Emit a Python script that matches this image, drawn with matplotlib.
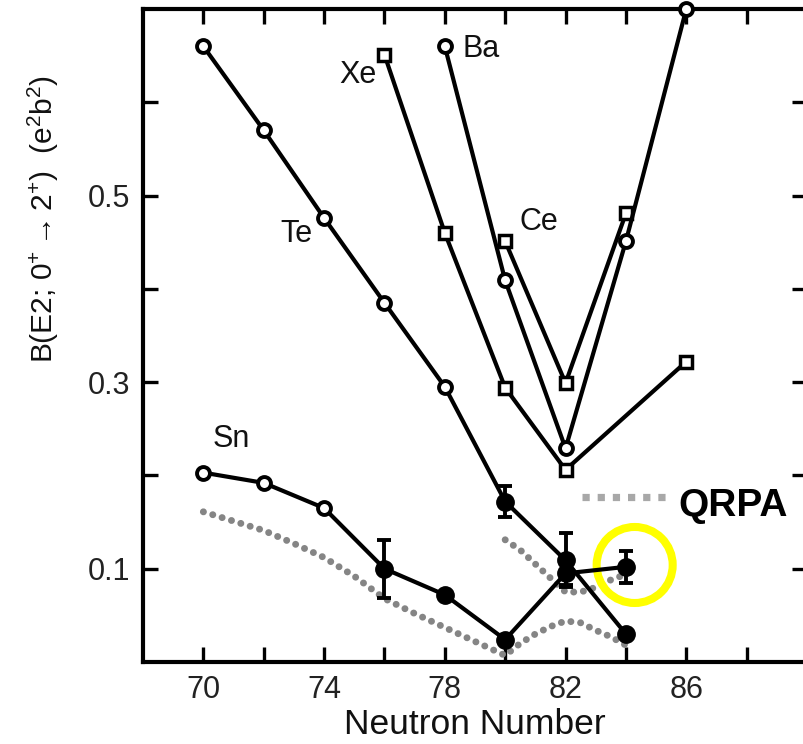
import numpy as np
import matplotlib
matplotlib.use("Agg")
import matplotlib.pyplot as plt
from matplotlib.patches import Ellipse

plt.rcParams['font.family'] = ['Liberation Sans', 'DejaVu Sans']
plt.rcParams['mathtext.fontset'] = 'custom'
plt.rcParams['mathtext.rm'] = 'Liberation Sans'
plt.rcParams['mathtext.it'] = 'Liberation Sans:italic'
plt.rcParams['mathtext.bf'] = 'Liberation Sans:bold'

# ---------------- data ----------------
te_n = [70, 72, 74, 76, 78, 80, 82, 84]
te_b = [0.660, 0.570, 0.476, 0.385, 0.295, 0.172, 0.109, 0.030]
te_err = [np.nan, np.nan, np.nan, np.nan, np.nan, 0.017, 0.029, 0.0]

sn_n = [70, 72, 74, 76, 78, 80, 82, 84]
sn_b = [0.203, 0.192, 0.165, 0.100, 0.072, 0.024, 0.095, 0.102]
sn_err = [np.nan, np.nan, np.nan, 0.031, 0.0, 0.0, 0.012, 0.017]

xe_n = [76, 78, 80, 82, 86]
xe_b = [0.651, 0.460, 0.294, 0.206, 0.322]

ba_n = [78, 80, 82, 84, 86]
ba_b = [0.660, 0.409, 0.229, 0.451, 0.700]

ce_n = [80, 82, 84]
ce_b = [0.451, 0.299, 0.481]

sn_qrpa_n = [70, 71, 72, 73, 74, 75, 76, 77, 78, 79, 80, 80.5, 81, 81.5, 82, 82.5, 83, 83.5, 84]
sn_qrpa_b = [0.161, 0.151, 0.141, 0.127, 0.112, 0.092, 0.068, 0.052, 0.037, 0.022, 0.007,
             0.020, 0.030, 0.038, 0.044, 0.042, 0.034, 0.027, 0.018]

te_qrpa_n = [80, 80.5, 81, 81.5, 82, 82.5, 83, 83.5, 84]
te_qrpa_b = [0.131, 0.120, 0.105, 0.090, 0.075, 0.075, 0.080, 0.088, 0.094]

labels = ['Te', 'Xe', 'Ba', 'Ce', 'Sn']
label_x = [73.6, 75.75, 78.57, 80.49, 70.29]
label_y = [0.450, 0.6206, 0.6485, 0.463, 0.2305]
label_ha = ['right', 'right', 'left', 'left', 'left']

xticks = [70, 72, 74, 76, 78, 80, 82, 84, 86, 88]
xticklabels = ['70', '', '74', '', '78', '', '82', '', '86', '']
yticks = [0.1, 0.2, 0.3, 0.4, 0.5, 0.6]
yticklabels = ['0.1', '', '0.3', '', '0.5', '']

# ---------------- figure ----------------
fig = plt.figure(figsize=(8.04, 7.44), dpi=100)
ax = fig.add_axes([143 / 804, (744 - 662) / 744, 664 / 804, 653 / 744])
ax.set_xlim(68, 90)
ax.set_ylim(0, 0.7)

LW = 3.0
grey = '#858585'

# QRPA curves (round dots)
for n, b in [(sn_qrpa_n, sn_qrpa_b), (te_qrpa_n, te_qrpa_b)]:
    ax.plot(n, b, color=grey, lw=5.0, linestyle=(0, (0.01, 1.4)),
            dash_capstyle='round', zorder=2)

# yellow highlight ring
ax.add_patch(Ellipse((84.29, 0.104), 2.52, 0.0815, fill=False,
                     ec='#ffff00', lw=5.8, zorder=2.5))

OPEN = dict(mfc='white', mec='k', zorder=4)
# open-symbol series
ax.plot(xe_n, xe_b, color='k', lw=LW, marker='s', ms=8.8, mew=2.5, **OPEN)
ax.plot(ce_n, ce_b, color='k', lw=LW, marker='s', ms=8.8, mew=2.5, **OPEN)
ax.plot(ba_n, ba_b, color='k', lw=LW, marker='o', ms=9.3, mew=2.8,
        clip_on=False, **OPEN)

# Te and Sn: line, open (adopted) points, filled (measured) points with errors
for n, b, e in [(te_n, te_b, te_err), (sn_n, sn_b, sn_err)]:
    n = np.array(n, float); b = np.array(b, float); e = np.array(e, float)
    ax.plot(n, b, color='k', lw=LW, zorder=3)
    op = np.isnan(e)
    ax.plot(n[op], b[op], ls='none', marker='o', ms=9.3, mew=2.8, **OPEN)
    fl = ~op
    ax.errorbar(n[fl], b[fl], yerr=e[fl], fmt='o', ms=12.5, mfc='k', mec='k',
                ecolor='k', elinewidth=2.8, capsize=5.0, capthick=2.8, zorder=4)

# element labels
for t, x, y, ha in zip(labels, label_x, label_y, label_ha):
    ax.text(x, y, t, fontsize=22, ha=ha, va='baseline', color='#111111', zorder=5)

# QRPA legend
ax.plot([82.54, 85.4], [0.177, 0.177], color='#a8a8a8', lw=5.2,
        linestyle=(0, (1.0, 1.1)), solid_capstyle='butt', dash_capstyle='butt', zorder=2)
ax.text(85.73, 0.1565, 'QRPA', fontsize=28, fontweight='bold', ha='left',
        va='baseline', color='k', zorder=5)

# axes styling
for s in ax.spines.values():
    s.set_linewidth(3.0)
    s.set_color('k')
ax.set_xticks(xticks)
ax.set_xticklabels(xticklabels)
ax.set_yticks(yticks)
ax.set_yticklabels(yticklabels)
ax.tick_params(direction='in', top=True, right=True, length=11, width=2.4,
               labelsize=22, pad=9, colors='k', labelcolor='#222222')

ax.text(0.5, -0.1110, 'Neutron Number', transform=ax.transAxes, fontsize=25.5,
        ha='center', va='baseline', color='#111111')
ax.text(-0.150, 0.678, r'B(E2; 0$^{+}$$\rightarrow$2$^{+}$)  (e$^{2}$b$^{2}$)',
        transform=ax.transAxes, rotation=90, fontsize=21.5, ha='center',
        va='center', color='#111111')

fig.savefig('out.png', dpi=100)
